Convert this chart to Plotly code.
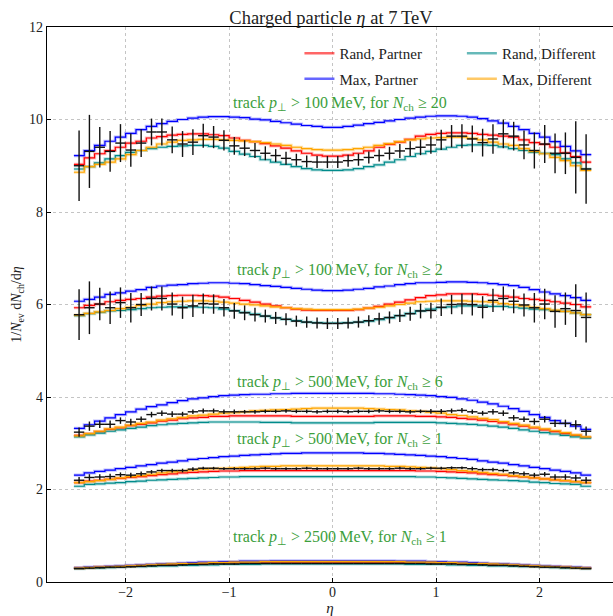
import numpy as np
import plotly.graph_objects as go

# ---------------- bins ----------------
eta_edges = np.round(np.linspace(-2.5, 2.5, 51), 2)
eta_centers = np.round(0.5 * (eta_edges[:-1] + eta_edges[1:]), 3)
eta_halfwidth = 0.5 * (eta_edges[1:] - eta_edges[:-1])

# ---------------- group 1: pT > 100 MeV, Nch >= 20 ----------------
g1_rand_partner = [9.03, 9.17, 9.26, 9.33, 9.40, 9.49, 9.53, 9.60, 9.63, 9.66, 9.68, 9.69, 9.69, 9.67, 9.65, 9.60, 9.55, 9.52, 9.48, 9.43, 9.38, 9.32, 9.27, 9.23, 9.21,
                   9.21, 9.23, 9.27, 9.32, 9.40, 9.46, 9.51, 9.57, 9.64, 9.68, 9.70, 9.71, 9.71, 9.70, 9.68, 9.66, 9.64, 9.62, 9.56, 9.50, 9.46, 9.40, 9.28, 9.20, 9.08]
g1_max_partner = [9.22, 9.33, 9.44, 9.53, 9.62, 9.70, 9.78, 9.85, 9.91, 9.96, 10.00, 10.03, 10.05, 10.06, 10.06, 10.05, 10.04, 10.01, 9.99, 9.96, 9.93, 9.90, 9.87, 9.85, 9.83,
                  9.83, 9.85, 9.88, 9.91, 9.94, 9.97, 10.00, 10.03, 10.05, 10.07, 10.08, 10.08, 10.07, 10.05, 10.02, 9.97, 9.92, 9.85, 9.78, 9.70, 9.62, 9.52, 9.42, 9.32, 9.24]
g1_rand_diff = [8.93, 8.98, 9.06, 9.15, 9.22, 9.29, 9.33, 9.37, 9.40, 9.42, 9.43, 9.44, 9.44, 9.42, 9.38, 9.31, 9.25, 9.20, 9.13, 9.08, 9.03, 8.98, 8.94, 8.91, 8.90,
                8.90, 8.91, 8.94, 8.98, 9.02, 9.08, 9.13, 9.20, 9.26, 9.31, 9.36, 9.40, 9.44, 9.45, 9.45, 9.44, 9.41, 9.37, 9.33, 9.29, 9.27, 9.24, 9.15, 9.06, 8.93]
g1_max_diff = [8.86, 8.98, 9.03, 9.08, 9.15, 9.24, 9.33, 9.40, 9.47, 9.51, 9.55, 9.56, 9.57, 9.57, 9.56, 9.55, 9.54, 9.52, 9.50, 9.47, 9.44, 9.40, 9.37, 9.35, 9.34,
               9.34, 9.35, 9.37, 9.40, 9.44, 9.48, 9.52, 9.56, 9.58, 9.60, 9.61, 9.62, 9.62, 9.59, 9.56, 9.51, 9.47, 9.44, 9.37, 9.31, 9.26, 9.18, 9.11, 9.00, 8.90]
g1_data = [9.00, 9.31, 9.40, 9.31, 9.49, 9.34, 9.49, 9.73, 9.73, 9.56, 9.47, 9.51, 9.65, 9.62, 9.55, 9.43, 9.38, 9.33, 9.27, 9.22, 9.16, 9.13, 9.09, 9.08, 9.08,
           9.08, 9.11, 9.13, 9.18, 9.22, 9.27, 9.32, 9.37, 9.40, 9.45, 9.56, 9.64, 9.64, 9.58, 9.50, 9.58, 9.69, 9.64, 9.45, 9.33, 9.47, 9.27, 9.27, 9.18, 8.93]
g1_err = [0.76, 0.79, 0.44, 0.44, 0.41, 0.36, 0.30, 0.29, 0.29, 0.29, 0.28, 0.28, 0.26, 0.24, 0.22, 0.19, 0.17, 0.16, 0.15, 0.14, 0.14, 0.13, 0.13, 0.13, 0.13,
          0.13, 0.13, 0.13, 0.13, 0.13, 0.14, 0.15, 0.16, 0.17, 0.19, 0.22, 0.24, 0.26, 0.29, 0.30, 0.32, 0.31, 0.31, 0.31, 0.39, 0.41, 0.43, 0.45, 0.78, 0.75]

# ---------------- group 2: pT > 100 MeV, Nch >= 2 ----------------
g2_rand_partner = [5.93, 5.98, 6.01, 6.06, 6.09, 6.11, 6.13, 6.16, 6.18, 6.19, 6.20, 6.20, 6.19, 6.18, 6.16, 6.13, 6.09, 6.05, 6.01, 5.97, 5.93, 5.90, 5.88, 5.87, 5.87,
                   5.87, 5.87, 5.89, 5.92, 5.96, 6.01, 6.05, 6.10, 6.15, 6.19, 6.21, 6.23, 6.23, 6.23, 6.22, 6.20, 6.18, 6.16, 6.13, 6.11, 6.09, 6.06, 6.03, 6.00, 5.95]
g2_max_partner = [6.07, 6.11, 6.16, 6.22, 6.25, 6.29, 6.32, 6.37, 6.40, 6.42, 6.43, 6.45, 6.46, 6.47, 6.47, 6.46, 6.45, 6.43, 6.41, 6.39, 6.37, 6.35, 6.33, 6.31, 6.30,
                  6.30, 6.31, 6.33, 6.35, 6.38, 6.40, 6.43, 6.45, 6.47, 6.47, 6.48, 6.49, 6.49, 6.48, 6.47, 6.45, 6.43, 6.41, 6.37, 6.32, 6.27, 6.23, 6.19, 6.15, 6.09]
g2_rand_diff = [5.76, 5.80, 5.83, 5.86, 5.87, 5.89, 5.91, 5.93, 5.94, 5.95, 5.95, 5.95, 5.94, 5.93, 5.90, 5.87, 5.83, 5.79, 5.75, 5.71, 5.68, 5.65, 5.62, 5.61, 5.60,
                5.60, 5.61, 5.62, 5.64, 5.67, 5.71, 5.76, 5.81, 5.86, 5.90, 5.93, 5.95, 5.97, 5.97, 5.97, 5.96, 5.96, 5.94, 5.92, 5.90, 5.89, 5.87, 5.85, 5.82, 5.78]
g2_max_diff = [5.77, 5.81, 5.84, 5.87, 5.91, 5.94, 5.98, 6.01, 6.04, 6.06, 6.07, 6.08, 6.08, 6.07, 6.05, 6.03, 6.01, 5.99, 5.97, 5.95, 5.93, 5.91, 5.90, 5.89, 5.89,
               5.89, 5.89, 5.90, 5.92, 5.94, 5.97, 6.00, 6.03, 6.06, 6.07, 6.08, 6.08, 6.08, 6.07, 6.06, 6.05, 6.02, 6.00, 5.97, 5.94, 5.91, 5.88, 5.85, 5.82, 5.78]
g2_data = [5.78, 5.93, 6.01, 5.93, 6.04, 5.93, 6.00, 6.13, 6.13, 6.01, 5.93, 5.97, 6.02, 6.01, 5.93, 5.86, 5.82, 5.78, 5.75, 5.71, 5.68, 5.64, 5.62, 5.60, 5.59,
           5.59, 5.60, 5.62, 5.65, 5.69, 5.72, 5.76, 5.80, 5.86, 5.87, 5.94, 6.00, 6.01, 6.00, 5.94, 6.09, 6.13, 6.07, 5.99, 5.93, 6.01, 5.85, 5.91, 5.87, 5.72]
g2_err = [0.55, 0.57, 0.35, 0.35, 0.33, 0.32, 0.25, 0.26, 0.26, 0.25, 0.24, 0.24, 0.22, 0.21, 0.19, 0.17, 0.16, 0.15, 0.14, 0.13, 0.13, 0.12, 0.12, 0.12, 0.12,
          0.12, 0.12, 0.12, 0.12, 0.13, 0.13, 0.14, 0.15, 0.16, 0.17, 0.19, 0.21, 0.22, 0.24, 0.24, 0.25, 0.26, 0.26, 0.25, 0.32, 0.33, 0.35, 0.35, 0.57, 0.54]

# ---------------- group 3: pT > 500 MeV, Nch >= 6 ----------------
g3_rand_partner = [3.17, 3.21, 3.25, 3.30, 3.33, 3.38, 3.41, 3.44, 3.48, 3.50, 3.53, 3.55, 3.56, 3.58, 3.58, 3.59, 3.59, 3.59, 3.59, 3.59, 3.59, 3.58, 3.58, 3.58, 3.58,
                   3.58, 3.58, 3.58, 3.58, 3.59, 3.59, 3.59, 3.59, 3.58, 3.58, 3.57, 3.56, 3.54, 3.52, 3.50, 3.47, 3.44, 3.40, 3.37, 3.33, 3.29, 3.25, 3.21, 3.17, 3.13]
g3_max_partner = [3.32, 3.40, 3.48, 3.55, 3.62, 3.68, 3.74, 3.79, 3.83, 3.88, 3.92, 3.96, 3.98, 4.01, 4.03, 4.04, 4.05, 4.06, 4.06, 4.07, 4.07, 4.08, 4.08, 4.08, 4.08,
                  4.08, 4.08, 4.08, 4.08, 4.07, 4.07, 4.06, 4.05, 4.04, 4.03, 4.01, 3.99, 3.96, 3.93, 3.89, 3.85, 3.80, 3.75, 3.69, 3.62, 3.56, 3.49, 3.43, 3.37, 3.30]
g3_rand_diff = [3.14, 3.18, 3.22, 3.26, 3.29, 3.32, 3.35, 3.38, 3.40, 3.42, 3.43, 3.44, 3.45, 3.46, 3.46, 3.46, 3.46, 3.46, 3.45, 3.45, 3.45, 3.44, 3.44, 3.44, 3.44,
                3.44, 3.44, 3.44, 3.44, 3.45, 3.45, 3.45, 3.45, 3.45, 3.45, 3.44, 3.43, 3.42, 3.41, 3.39, 3.37, 3.35, 3.32, 3.29, 3.26, 3.23, 3.20, 3.17, 3.14, 3.11]
g3_max_diff = [3.16, 3.21, 3.26, 3.31, 3.35, 3.39, 3.43, 3.46, 3.50, 3.53, 3.56, 3.59, 3.61, 3.63, 3.65, 3.66, 3.68, 3.70, 3.71, 3.72, 3.73, 3.74, 3.75, 3.76, 3.76,
               3.76, 3.76, 3.76, 3.75, 3.74, 3.73, 3.72, 3.70, 3.69, 3.67, 3.65, 3.62, 3.60, 3.57, 3.54, 3.51, 3.47, 3.43, 3.39, 3.35, 3.31, 3.27, 3.23, 3.18, 3.14]
g3_data = [3.24, 3.37, 3.41, 3.41, 3.49, 3.46, 3.52, 3.62, 3.65, 3.63, 3.63, 3.68, 3.70, 3.70, 3.68, 3.68, 3.68, 3.68, 3.69, 3.69, 3.70, 3.69, 3.69, 3.68, 3.69,
           3.69, 3.68, 3.69, 3.69, 3.70, 3.69, 3.69, 3.68, 3.69, 3.69, 3.69, 3.70, 3.71, 3.68, 3.65, 3.68, 3.65, 3.55, 3.52, 3.47, 3.52, 3.43, 3.43, 3.40, 3.26]
g3_err = [0.10, 0.10, 0.08, 0.08, 0.07, 0.07, 0.06, 0.06, 0.06, 0.06, 0.05, 0.05, 0.05, 0.05, 0.05, 0.05, 0.04, 0.04, 0.04, 0.04, 0.04, 0.04, 0.04, 0.04, 0.04,
          0.04, 0.04, 0.04, 0.04, 0.04, 0.04, 0.04, 0.04, 0.04, 0.05, 0.05, 0.05, 0.05, 0.05, 0.05, 0.06, 0.06, 0.06, 0.06, 0.07, 0.07, 0.08, 0.08, 0.10, 0.10]

# ---------------- group 4: pT > 500 MeV, Nch >= 1 ----------------
g4_rand_partner = [2.15, 2.18, 2.20, 2.22, 2.24, 2.26, 2.28, 2.30, 2.32, 2.34, 2.36, 2.37, 2.38, 2.39, 2.40, 2.40, 2.41, 2.41, 2.41, 2.41, 2.41, 2.41, 2.41, 2.41, 2.41,
                   2.41, 2.41, 2.41, 2.41, 2.41, 2.41, 2.41, 2.41, 2.40, 2.40, 2.39, 2.38, 2.37, 2.36, 2.34, 2.32, 2.31, 2.29, 2.27, 2.25, 2.23, 2.21, 2.19, 2.17, 2.15]
g4_max_partner = [2.31, 2.36, 2.39, 2.42, 2.45, 2.48, 2.51, 2.54, 2.57, 2.59, 2.62, 2.65, 2.67, 2.69, 2.71, 2.72, 2.74, 2.75, 2.76, 2.77, 2.78, 2.78, 2.79, 2.79, 2.79,
                  2.79, 2.79, 2.79, 2.78, 2.78, 2.77, 2.76, 2.75, 2.74, 2.72, 2.71, 2.69, 2.67, 2.65, 2.62, 2.59, 2.57, 2.54, 2.51, 2.48, 2.45, 2.42, 2.39, 2.36, 2.31]
g4_rand_diff = [2.07, 2.11, 2.12, 2.14, 2.15, 2.17, 2.18, 2.20, 2.21, 2.22, 2.23, 2.24, 2.25, 2.26, 2.27, 2.27, 2.28, 2.28, 2.28, 2.28, 2.28, 2.28, 2.28, 2.28, 2.28,
                2.28, 2.28, 2.28, 2.28, 2.28, 2.28, 2.28, 2.28, 2.27, 2.27, 2.26, 2.25, 2.24, 2.23, 2.22, 2.21, 2.20, 2.19, 2.18, 2.16, 2.15, 2.13, 2.12, 2.11, 2.07]
g4_max_diff = [2.15, 2.17, 2.19, 2.22, 2.25, 2.28, 2.30, 2.33, 2.36, 2.38, 2.40, 2.42, 2.44, 2.45, 2.46, 2.47, 2.48, 2.49, 2.50, 2.50, 2.51, 2.51, 2.51, 2.51, 2.51,
               2.51, 2.51, 2.51, 2.51, 2.51, 2.50, 2.50, 2.49, 2.48, 2.47, 2.45, 2.43, 2.41, 2.39, 2.37, 2.35, 2.33, 2.30, 2.28, 2.25, 2.23, 2.21, 2.19, 2.17, 2.15]
g4_data = [2.20, 2.26, 2.27, 2.28, 2.32, 2.31, 2.34, 2.38, 2.41, 2.41, 2.41, 2.44, 2.46, 2.46, 2.45, 2.45, 2.45, 2.45, 2.46, 2.45, 2.45, 2.45, 2.46, 2.45, 2.45,
           2.45, 2.45, 2.46, 2.45, 2.45, 2.45, 2.46, 2.45, 2.45, 2.46, 2.46, 2.47, 2.47, 2.45, 2.43, 2.43, 2.41, 2.36, 2.34, 2.31, 2.33, 2.27, 2.27, 2.25, 2.20]
g4_err = [0.07, 0.07, 0.06, 0.06, 0.05, 0.05, 0.05, 0.04, 0.04, 0.04, 0.04, 0.04, 0.03, 0.03, 0.03, 0.03, 0.03, 0.03, 0.03, 0.03, 0.03, 0.03, 0.03, 0.03, 0.03,
          0.03, 0.03, 0.03, 0.03, 0.03, 0.03, 0.03, 0.03, 0.03, 0.03, 0.03, 0.03, 0.03, 0.04, 0.04, 0.04, 0.04, 0.04, 0.05, 0.05, 0.05, 0.06, 0.06, 0.07, 0.07]

# ---------------- group 5: pT > 2500 MeV, Nch >= 1 ----------------
g5_rand_partner = [0.30, 0.31, 0.32, 0.33, 0.33, 0.34, 0.35, 0.36, 0.37, 0.37, 0.38, 0.39, 0.39, 0.40, 0.40, 0.41, 0.41, 0.41, 0.42, 0.42, 0.42, 0.42, 0.42, 0.42, 0.42,
                   0.42, 0.42, 0.42, 0.42, 0.42, 0.42, 0.42, 0.41, 0.41, 0.41, 0.40, 0.40, 0.39, 0.39, 0.38, 0.37, 0.37, 0.36, 0.35, 0.34, 0.33, 0.33, 0.32, 0.31, 0.30]
g5_max_partner = [0.31, 0.32, 0.33, 0.34, 0.35, 0.36, 0.37, 0.38, 0.39, 0.40, 0.41, 0.42, 0.43, 0.43, 0.44, 0.44, 0.45, 0.45, 0.45, 0.46, 0.46, 0.46, 0.46, 0.46, 0.46,
                  0.46, 0.46, 0.46, 0.46, 0.46, 0.46, 0.45, 0.45, 0.45, 0.44, 0.44, 0.43, 0.43, 0.42, 0.41, 0.40, 0.39, 0.38, 0.37, 0.36, 0.35, 0.34, 0.33, 0.32, 0.31]
g5_rand_diff = [0.29, 0.30, 0.30, 0.31, 0.32, 0.33, 0.33, 0.34, 0.35, 0.35, 0.36, 0.36, 0.37, 0.37, 0.38, 0.38, 0.38, 0.38, 0.39, 0.39, 0.39, 0.39, 0.39, 0.39, 0.39,
                0.39, 0.39, 0.39, 0.39, 0.39, 0.39, 0.39, 0.38, 0.38, 0.38, 0.38, 0.37, 0.37, 0.36, 0.36, 0.35, 0.35, 0.34, 0.33, 0.33, 0.32, 0.31, 0.30, 0.30, 0.29]
g5_max_diff = [0.30, 0.31, 0.32, 0.33, 0.34, 0.35, 0.36, 0.37, 0.38, 0.39, 0.40, 0.40, 0.41, 0.42, 0.42, 0.43, 0.43, 0.43, 0.44, 0.44, 0.44, 0.44, 0.44, 0.44, 0.44,
               0.44, 0.44, 0.44, 0.44, 0.44, 0.44, 0.44, 0.43, 0.43, 0.43, 0.42, 0.42, 0.41, 0.40, 0.40, 0.39, 0.38, 0.37, 0.36, 0.35, 0.34, 0.33, 0.32, 0.31, 0.30]
g5_data = [0.29, 0.30, 0.31, 0.32, 0.32, 0.33, 0.34, 0.35, 0.36, 0.36, 0.37, 0.38, 0.38, 0.39, 0.39, 0.39, 0.40, 0.40, 0.40, 0.40, 0.40, 0.40, 0.40, 0.40, 0.40,
           0.40, 0.40, 0.40, 0.40, 0.40, 0.40, 0.40, 0.40, 0.40, 0.39, 0.39, 0.39, 0.38, 0.38, 0.37, 0.36, 0.36, 0.35, 0.34, 0.33, 0.32, 0.32, 0.31, 0.30, 0.29]
g5_err = [0.01] * 50

group_labels = [
    "track <i>p</i><sub>⊥</sub> > 100\u2009MeV, for <i>N</i><sub>ch</sub> ≥ 20",
    "track <i>p</i><sub>⊥</sub> > 100\u2009MeV, for <i>N</i><sub>ch</sub> ≥ 2",
    "track <i>p</i><sub>⊥</sub> > 500\u2009MeV, for <i>N</i><sub>ch</sub> ≥ 6",
    "track <i>p</i><sub>⊥</sub> > 500\u2009MeV, for <i>N</i><sub>ch</sub> ≥ 1",
    "track <i>p</i><sub>⊥</sub> > 2500\u2009MeV, for <i>N</i><sub>ch</sub> ≥ 1",
]
label_y = [10.35, 6.74, 4.31, 3.08, 0.96]

series_names = ["Rand, Partner", "Max, Partner", "Rand, Different", "Max, Different"]
series_colors = ["#ff0000", "#0000ff", "#008b8b", "#ffa500"]
band_colors = ["rgba(255,0,0,0.25)", "rgba(0,0,255,0.25)", "rgba(0,139,139,0.25)", "rgba(255,165,0,0.30)"]
legend_colors = ["rgba(255,0,0,0.6)", "rgba(0,0,255,0.6)", "rgba(0,139,139,0.6)", "rgba(255,165,0,0.6)"]

groups = [
    ([g1_rand_partner, g1_max_partner, g1_rand_diff, g1_max_diff], g1_data, g1_err),
    ([g2_rand_partner, g2_max_partner, g2_rand_diff, g2_max_diff], g2_data, g2_err),
    ([g3_rand_partner, g3_max_partner, g3_rand_diff, g3_max_diff], g3_data, g3_err),
    ([g4_rand_partner, g4_max_partner, g4_rand_diff, g4_max_diff], g4_data, g4_err),
    ([g5_rand_partner, g5_max_partner, g5_rand_diff, g5_max_diff], g5_data, g5_err),
]

FONT = "Liberation Serif"
fig = go.Figure()

for mc_list, data, err in groups:
    for vals, col, band in zip(mc_list, series_colors, band_colors):
        ystep = list(vals) + [vals[-1]]
        fig.add_trace(go.Scatter(x=eta_edges, y=ystep, mode="lines", line_shape="hv",
                                 line=dict(color=band, width=3.2), showlegend=False, hoverinfo="skip"))
        fig.add_trace(go.Scatter(x=eta_edges, y=ystep, mode="lines", line_shape="hv",
                                 line=dict(color=col, width=1.2), showlegend=False))
    fig.add_trace(go.Scatter(
        x=eta_centers, y=data, mode="markers",
        marker=dict(size=1, color="#111111"),
        error_x=dict(type="data", array=eta_halfwidth, width=0, thickness=1.4, color="#111111"),
        error_y=dict(type="data", array=err, width=0, thickness=1.4, color="#111111"),
        showlegend=False))

# legend entries (two columns)
for i, (name, col) in enumerate(zip(series_names, legend_colors)):
    fig.add_trace(go.Scatter(x=[None], y=[None], mode="lines", name=name,
                             line=dict(color=col, width=2.5),
                             legend="legend" if i < 2 else "legend2",
                             legendgroup=name, showlegend=True))

for txt, yv in zip(group_labels, label_y):
    fig.add_annotation(x=0.07, y=yv, xref="x", yref="y", text=txt, showarrow=False,
                       font=dict(family=FONT, size=16, color="#3ca03c"), xanchor="center", yanchor="middle")

axis_common = dict(ticks="inside", ticklen=4, tickwidth=1, tickcolor="black",
                   showline=True, linecolor="black", linewidth=1.2,
                   showgrid=True, gridcolor="#c4c4c4", griddash="dot", gridwidth=0.8,
                   zeroline=False, tickfont=dict(family=FONT, size=14, color="#222222"))

fig.update_layout(
    width=613, height=616,
    margin=dict(l=47, r=0, t=27, b=34),
    paper_bgcolor="white", plot_bgcolor="white",
    font=dict(family=FONT, size=14, color="#222222"),
    title=dict(text="Charged particle <i>η</i> at 7\u2009TeV", x=331 / 613, xanchor="center",
               y=1 - 18 / 616, yanchor="middle", font=dict(family=FONT, size=18.5, color="#222222")),
    legend=dict(x=0.446, y=0.982, xanchor="left", yanchor="top", bgcolor="rgba(0,0,0,0)",
                tracegroupgap=3, traceorder="grouped", font=dict(family=FONT, size=15, color="#222222")),
    legend2=dict(x=0.733, y=0.982, xanchor="left", yanchor="top", bgcolor="rgba(0,0,0,0)",
                 tracegroupgap=3, traceorder="grouped", font=dict(family=FONT, size=15, color="#222222")),
    xaxis=dict(range=[-2.76, 2.71], tickvals=[-2, -1, 0, 1, 2], mirror=True, ticklabelstandoff=-3,
               title=dict(text="<i>η</i>", standoff=1, font=dict(family=FONT, size=15)),
               **axis_common),
    yaxis=dict(range=[0, 12], tickvals=[0, 2, 4, 6, 8, 10, 12], mirror=False,
               title=dict(text="1/<i>N</i><sub>ev</sub> d<i>N</i><sub>ch</sub>/d<i>η</i>", standoff=4,
                          font=dict(family=FONT, size=14)),
               **axis_common),
)

fig.write_html("out.html", config={"displayModeBar": False},
               post_script="document.body.style.margin='0';document.body.style.overflow='hidden';")
